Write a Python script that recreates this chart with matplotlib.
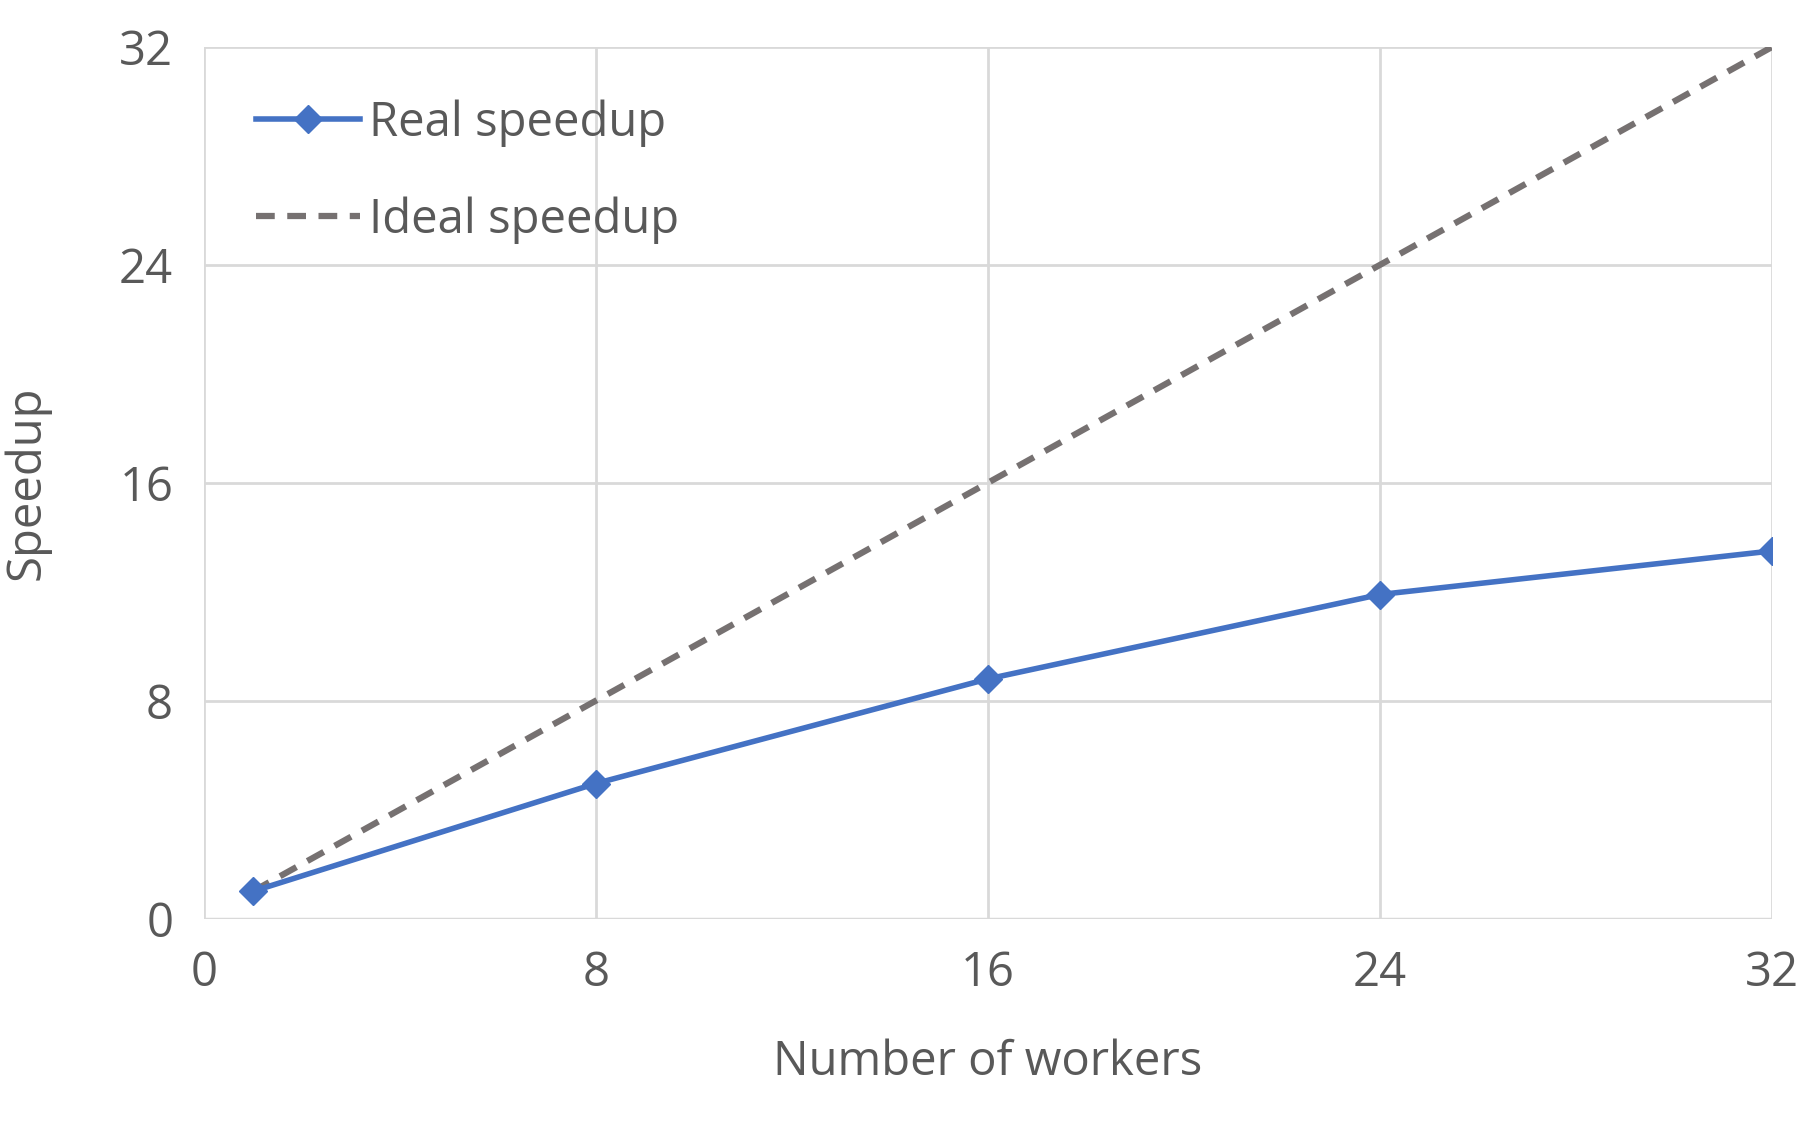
import matplotlib.pyplot as plt

workers = [1, 8, 16, 24, 32]
real_speedup = [1, 4.96, 8.8, 11.9, 13.5]
ideal_speedup = [1, 8, 16, 24, 32]
ticks = [0, 8, 16, 24, 32]

TEXT = "#595959"
GRID = "#D9D9D9"

plt.rcParams["font.family"] = ["Open Sans", "DejaVu Sans"]

fig = plt.figure(figsize=(18.19, 11.23), dpi=100)
ax = fig.add_axes([0.112, 0.182, 0.862, 0.776])

ax.plot(workers, real_speedup, color="#4472C4", lw=4, marker="D", ms=14,
        label="Real speedup", zorder=3)
ax.plot(workers, ideal_speedup, color="#767171", lw=4.5, ls=(0, (3, 2)),
        label="Ideal speedup", zorder=2)

ax.set_xlim(0, 32)
ax.set_ylim(0, 32)
ax.set_xticks(ticks)
ax.set_yticks(ticks)
ax.grid(True, color=GRID, lw=2)
for s in ax.spines.values():
    s.set_visible(False)
ax.axhline(0, color=GRID, lw=2.5, zorder=1)
ax.tick_params(length=0, labelsize=34, labelcolor=TEXT, pad=22)
ax.set_xlabel("Number of workers", fontsize=34, color=TEXT, labelpad=30)
ax.set_ylabel("Speedup", fontsize=34, color=TEXT, labelpad=40)
ax.yaxis.set_label_coords(-0.098, 0.5)

leg = ax.legend(loc="upper left", frameon=False, fontsize=34, handlelength=2.2,
                labelspacing=1.05, borderaxespad=0.7, handletextpad=0.2)
for t in leg.get_texts():
    t.set_color(TEXT)

fig.savefig("out.png", dpi=100, facecolor="white")
